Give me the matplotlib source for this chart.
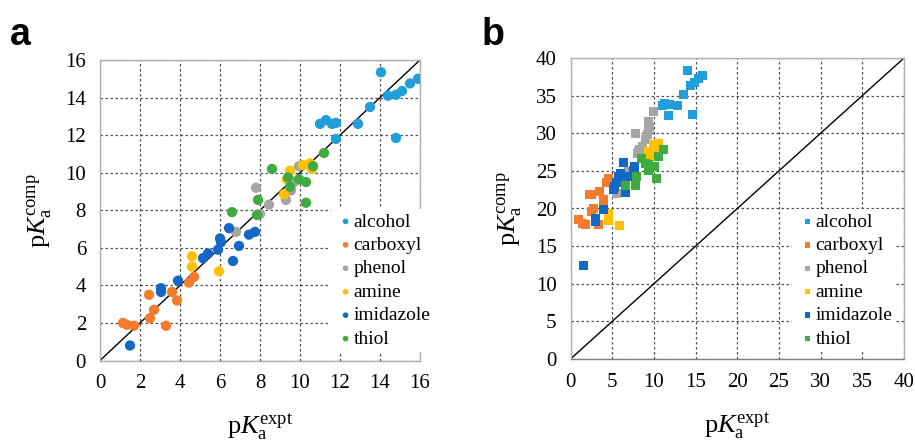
import matplotlib
matplotlib.use("Agg")
import matplotlib.pyplot as plt

plt.rcParams['font.family'] = 'serif'
plt.rcParams['font.serif'] = ['Liberation Serif', 'DejaVu Serif']
plt.rcParams['mathtext.fontset'] = 'custom'
plt.rcParams['mathtext.rm'] = 'Liberation Serif'
plt.rcParams['mathtext.it'] = 'Liberation Serif:italic'

categories = ['alcohol', 'carboxyl', 'phenol', 'amine', 'imidazole', 'thiol']
colors = ['#1f9ed9', '#f47b2c', '#a5a5a5', '#ffc000', '#1268c4', '#3dab3d']

# Panel a: (expt, comp)
a_alcohol_x = [11.0, 11.3, 11.6, 11.8, 11.8, 12.9, 13.5, 14.05, 14.4, 14.8, 15.1, 15.5, 15.9, 14.8]
a_alcohol_y = [12.6, 12.8, 12.6, 12.65, 11.8, 12.6, 13.5, 15.35, 14.1, 14.15, 14.35, 14.75, 15.0, 11.85]
a_carboxyl_x = [1.15, 1.35, 1.7, 2.5, 2.7, 2.45, 3.3, 3.6, 3.85, 4.45, 4.7]
a_carboxyl_y = [2.0, 1.9, 1.85, 2.25, 2.7, 3.5, 1.85, 3.65, 3.2, 4.15, 4.45]
a_phenol_x = [6.8, 7.8, 8.0, 8.45, 9.3, 9.55, 9.7, 9.95]
a_phenol_y = [6.85, 9.2, 7.8, 8.3, 8.55, 9.05, 9.5, 10.35]
a_amine_x = [4.6, 4.6, 5.95, 9.2, 9.35, 9.5, 10.15, 10.5, 10.6]
a_amine_y = [5.55, 5.0, 4.75, 8.85, 9.65, 10.1, 10.4, 10.5, 10.2]
a_imidazole_x = [1.5, 3.05, 3.05, 3.9, 5.15, 5.4, 5.9, 6.0, 6.05, 6.45, 6.65, 6.95, 7.45, 7.75]
a_imidazole_y = [0.8, 3.85, 3.65, 4.25, 5.45, 5.7, 5.9, 6.5, 6.3, 7.05, 5.3, 6.1, 6.7, 6.85]
a_thiol_x = [6.6, 7.85, 7.9, 8.6, 9.4, 9.5, 9.95, 10.3, 10.3, 10.65, 11.2]
a_thiol_y = [7.9, 7.75, 8.55, 10.2, 9.75, 9.25, 9.65, 9.5, 8.4, 10.35, 11.05]

# Panel b: (expt, comp)
b_alcohol_x = [14.0, 15.8, 15.4, 14.9, 14.4, 13.5, 11.0, 11.3, 11.9, 12.8, 11.7, 14.6]
b_alcohol_y = [38.4, 37.7, 37.3, 36.8, 36.3, 35.2, 33.7, 34.0, 33.8, 33.7, 32.3, 32.5]
b_carboxyl_x = [4.6, 4.3, 2.5, 3.5, 3.9, 2.3, 2.7, 2.5, 1.0, 1.4, 1.8, 3.4, 4.0]
b_carboxyl_y = [24.0, 23.4, 21.9, 22.2, 21.2, 21.9, 20.0, 19.6, 18.5, 18.0, 17.9, 17.9, 21.0]
b_phenol_x = [10.0, 9.4, 9.3, 9.5, 7.8, 9.2, 9.0, 8.6, 8.3, 8.0, 8.1, 6.9, 5.5]
b_phenol_y = [32.9, 31.6, 31.0, 30.7, 30.0, 29.9, 29.2, 28.2, 27.8, 27.3, 27.6, 24.9, 22.0]
b_amine_x = [10.5, 10.0, 9.9, 9.3, 10.3, 9.5, 9.8, 4.6, 4.6, 5.9]
b_amine_y = [28.6, 28.5, 28.0, 27.6, 27.6, 26.9, 27.2, 19.3, 18.4, 17.8]
b_imidazole_x = [6.4, 7.7, 7.5, 6.0, 5.8, 6.3, 6.9, 5.5, 5.3, 5.2, 6.6, 3.9, 3.0, 3.0, 1.5]
b_imidazole_y = [26.1, 25.6, 25.1, 24.7, 24.2, 24.0, 24.3, 23.4, 22.9, 22.5, 22.1, 19.9, 18.7, 18.3, 12.4]
b_thiol_x = [11.2, 10.6, 8.5, 9.3, 10.1, 9.4, 7.9, 10.3, 6.6, 7.8, 9.0]
b_thiol_y = [27.9, 26.9, 26.6, 25.8, 25.6, 25.1, 24.2, 24.0, 23.1, 23.0, 26.0]

a_data = [(a_alcohol_x, a_alcohol_y), (a_carboxyl_x, a_carboxyl_y), (a_phenol_x, a_phenol_y),
          (a_amine_x, a_amine_y), (a_imidazole_x, a_imidazole_y), (a_thiol_x, a_thiol_y)]
b_data = [(b_alcohol_x, b_alcohol_y), (b_carboxyl_x, b_carboxyl_y), (b_phenol_x, b_phenol_y),
          (b_amine_x, b_amine_y), (b_imidazole_x, b_imidazole_y), (b_thiol_x, b_thiol_y)]

a_ticks = [0, 2, 4, 6, 8, 10, 12, 14, 16]
b_ticks = [0, 5, 10, 15, 20, 25, 30, 35, 40]

fig = plt.figure(figsize=(9.15, 4.48), dpi=100)
axa = fig.add_axes([100/915, (448-360.5)/448, 320/915, 300.5/448])
axb = fig.add_axes([570.5/915, (448-359)/448, 333.5/915, 301/448])

xlabel = r'p$K_\mathrm{a}^\mathrm{expt}$'
ylabel = r'p$K_\mathrm{a}^\mathrm{comp}$'

for ax, data, ticks, marker, ms in [(axa, a_data, a_ticks, 'o', 55), (axb, b_data, b_ticks, 's', 42)]:
    lim = ticks[-1]
    ax.set_xlim(0, lim)
    ax.set_ylim(0, lim)
    ax.set_xticks(ticks)
    ax.set_yticks(ticks)
    ax.grid(True, color='#505050', linestyle=(0, (2, 2)), linewidth=0.9)
    ax.set_axisbelow(True)
    ax.tick_params(length=0, labelsize=15, pad=10)
    for s in ax.spines.values():
        s.set_color('#b0b0b0')
        s.set_linewidth(1.0)
    ax.plot([0, lim], [0, lim], color='black', linewidth=1.0, zorder=2)
    for (xs, ys), c, lab in zip(data, colors, categories):
        ax.scatter(xs, ys, s=ms, marker=marker, color=c, edgecolors='none', label=lab, zorder=3)
    ax.set_xlabel(xlabel, fontsize=19, labelpad=13)
    ax.set_ylabel(ylabel, fontsize=19, labelpad=8)

axb.spines['bottom'].set_color('#808080')

for ax, anchor, msc in [(axa, (330/915, 1 - 209/448), 0.55), (axb, (792/915, 1 - 209/448), 0.6)]:
    leg = ax.legend(loc='upper left', bbox_to_anchor=anchor, bbox_transform=fig.transFigure,
                    frameon=True, fontsize=14, handletextpad=-0.2, labelspacing=0.3,
                    borderpad=0.2, handlelength=1.2, markerscale=msc, borderaxespad=0)
    leg.get_frame().set_edgecolor('none')
    leg.get_frame().set_facecolor('white')
    leg.get_frame().set_alpha(1)
    leg.set_zorder(5)

fig.text(10/915, 1 - 45/448, 'a', fontsize=27, fontweight='bold', family='Liberation Sans')
fig.text(482/915, 1 - 45/448, 'b', fontsize=27, fontweight='bold', family='Liberation Sans')

fig.savefig('out.png', dpi=100)
